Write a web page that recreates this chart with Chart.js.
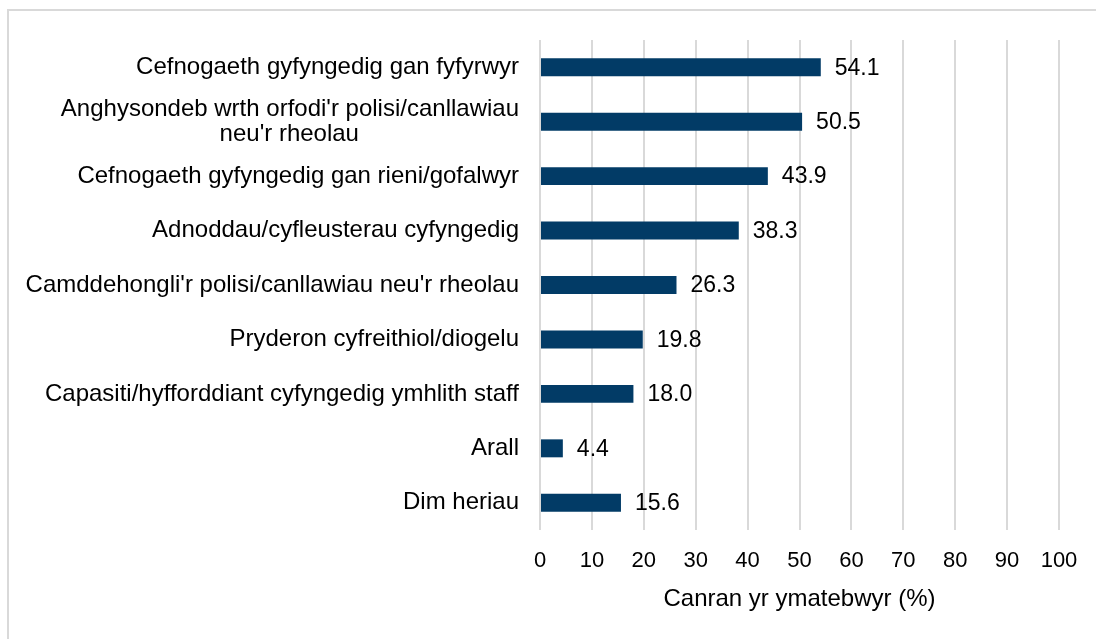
<!DOCTYPE html>
<html>
<head>
<meta charset="utf-8">
<script src="https://cdn.jsdelivr.net/npm/chart.js@4/dist/chart.umd.min.js"></script>
<style>
  html, body { margin: 0; padding: 0; background: #fff; }
  #wrap { position: relative; width: 1096px; height: 639px; overflow: hidden; }
  #frame { position: absolute; left: 7px; top: 9px; width: 1100px; height: 640px; border: 2px solid #d9d9d9; box-sizing: border-box; }
  canvas { position: absolute; left: 0; top: 0; }
</style>
</head>
<body>
<div id="wrap">
  <div id="frame"></div>
  <canvas id="chart" width="1096" height="639"></canvas>
</div>
<script>
// second line of the wrapped label is centred under the first, so pad it on the right
const pad = "\u00A0".repeat(24);
const categories = [
  "Cefnogaeth gyfyngedig gan fyfyrwyr",
  ["Anghysondeb wrth orfodi'r polisi/canllawiau", "neu'r rheolau" + pad],
  "Cefnogaeth gyfyngedig gan rieni/gofalwyr",
  "Adnoddau/cyfleusterau cyfyngedig",
  "Camddehongli'r polisi/canllawiau neu'r rheolau",
  "Pryderon cyfreithiol/diogelu",
  "Capasiti/hyfforddiant cyfyngedig ymhlith staff",
  "Arall",
  "Dim heriau"
];
const values = [54.1, 50.5, 43.9, 38.3, 26.3, 19.8, 18.0, 4.4, 15.6];
const axisTitle = "Canran yr ymatebwyr (%)";

const fontFamily = "'Liberation Sans', Arial, sans-serif";

// value at the end of each bar
const valueLabels = {
  id: "valueLabels",
  afterDatasetsDraw(chart) {
    const ctx = chart.ctx;
    const meta = chart.getDatasetMeta(0);
    ctx.save();
    ctx.font = "23px " + fontFamily;
    ctx.fillStyle = "#000";
    ctx.textAlign = "left";
    ctx.textBaseline = "middle";
    meta.data.forEach((bar, i) => {
      ctx.fillText(values[i].toFixed(1), bar.x + 14, bar.y + 1);
    });
    ctx.restore();
  }
};

new Chart(document.getElementById("chart"), {
  type: "bar",
  data: {
    labels: categories,
    datasets: [{
      data: values,
      backgroundColor: "#023b66",
      borderWidth: 0,
      barPercentage: 0.66,
      categoryPercentage: 0.5
    }]
  },
  options: {
    indexAxis: "y",
    responsive: false,
    animation: false,
    layout: { padding: { top: 40, right: 37, bottom: 25, left: 0 } },
    plugins: { legend: { display: false }, tooltip: { enabled: false } },
    scales: {
      x: {
        min: 0,
        max: 100,
        afterFit(scale) { scale.height = 84; },
        ticks: { stepSize: 10, color: "#000", padding: 18, maxRotation: 0, minRotation: 0, font: { size: 22, family: fontFamily } },
        grid: { color: "#d9d9d9", lineWidth: 2, drawTicks: false },
        border: { display: false },
        title: { display: true, text: axisTitle, color: "#000", padding: { top: 16, bottom: 0 }, font: { size: 24, family: fontFamily } }
      },
      y: {
        afterFit(scale) { scale.width = 540; },
        ticks: { color: "#000", padding: 21, autoSkip: false, font: { size: 24, family: fontFamily, lineHeight: 1.05 } },
        grid: { display: false, drawTicks: false },
        border: { display: false }
      }
    }
  },
  plugins: [valueLabels]
});
</script>
</body>
</html>
